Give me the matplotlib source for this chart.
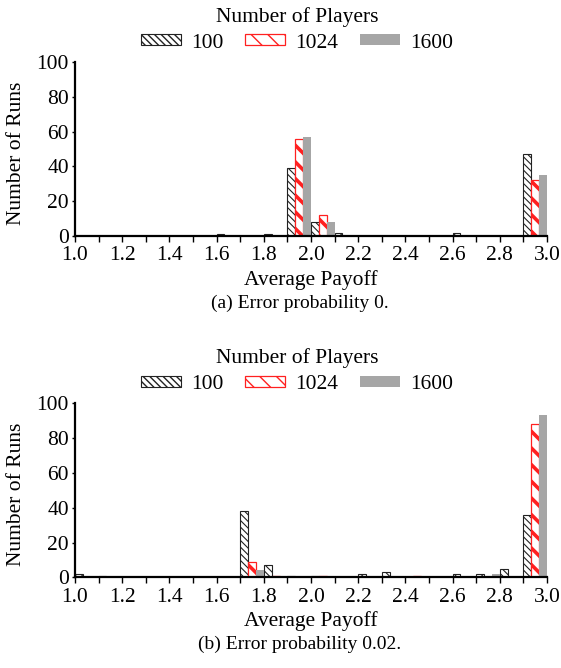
import numpy as np
import matplotlib
matplotlib.use("Agg")
import matplotlib.pyplot as plt
from matplotlib.patches import Patch

plt.rcParams['font.family'] = ['Liberation Serif', 'DejaVu Serif']

# payoff bins, 0.1 wide, left edges 1.0 .. 2.9
bin_left = [1.0, 1.1, 1.2, 1.3, 1.4, 1.5, 1.6, 1.7, 1.8, 1.9,
            2.0, 2.1, 2.2, 2.3, 2.4, 2.5, 2.6, 2.7, 2.8, 2.9]
players = ["100", "1024", "1600"]

# (a) error probability 0
runs_a_100 = [0, 0, 0, 0, 0, 0, 1, 0, 1, 39, 8, 2, 0, 0, 0, 0, 2, 0, 0, 47]
runs_a_1024 = [0, 0, 0, 0, 0, 0, 0, 0, 0, 56, 12, 0, 0, 0, 0, 0, 0, 0, 0, 32]
runs_a_1600 = [0, 0, 0, 0, 0, 0, 0, 0, 0, 57, 8, 0, 0, 0, 0, 0, 0, 0, 0, 35]

# (b) error probability 0.02
runs_b_100 = [2, 1, 0, 0, 0, 0, 0, 38, 7, 1, 1, 0, 2, 3, 0, 0, 2, 2, 5, 36]
runs_b_1024 = [0, 0, 0, 0, 0, 0, 0, 9, 1, 0, 1, 0, 0, 0, 1, 0, 0, 0, 0, 88]
runs_b_1600 = [0, 0, 0, 0, 0, 0, 0, 4, 0, 0, 0, 0, 0, 0, 0, 0, 0, 2, 1, 93]

x_ticks = [1.0, 1.1, 1.2, 1.3, 1.4, 1.5, 1.6, 1.7, 1.8, 1.9, 2.0,
           2.1, 2.2, 2.3, 2.4, 2.5, 2.6, 2.7, 2.8, 2.9, 3.0]
y_ticks = [0, 20, 40, 60, 80, 100]

GRAY = '#a6a6a6'
RED = '#ff2020'
W, H = 561, 668
FS = 15.5

styles = [
    dict(facecolor='white', edgecolor='#222222', hatch='\\\\\\\\\\', linewidth=0.8, hlw=0.8),
    dict(facecolor='white', edgecolor=RED, hatch='\\\\', linewidth=0.9, hlw=2.6),
    dict(facecolor=GRAY, edgecolor='none', hatch=None, linewidth=0, hlw=1.0),
]


def set_hlw(patch, lw):
    if hasattr(patch, 'set_hatch_linewidth'):
        patch.set_hatch_linewidth(lw)


def panel(fig, y_base, series, caption):
    # y_base: pixel row of the x axis (from top)
    ax = fig.add_axes([75 / W, (H - y_base) / H, 472 / W, 174 / H])
    bw = 0.1 / 3
    left = np.array(bin_left)
    for k, (vals, st) in enumerate(zip(series, styles)):
        with plt.rc_context({'hatch.linewidth': st['hlw']}):
            bars = ax.bar(left + k * bw, vals, width=bw, align='edge',
                          facecolor=st['facecolor'], edgecolor=st['edgecolor'],
                          hatch=st['hatch'], linewidth=st['linewidth'], zorder=2)
            for b in bars:
                set_hlw(b, st['hlw'])

    ax.set_xlim(1.0, 3.0)
    ax.set_ylim(0, 100)
    ax.set_xticks(x_ticks)
    ax.set_xticklabels(["%.1f" % t if i % 2 == 0 else "" for i, t in enumerate(x_ticks)])
    ax.set_yticks(y_ticks)
    ax.tick_params(axis='x', direction='out', length=4, width=1, pad=3.5, labelsize=FS)
    ax.tick_params(axis='y', direction='out', length=2.5, width=1, pad=2, labelsize=FS)
    for s in ['top', 'right']:
        ax.spines[s].set_visible(False)
    for s in ['left', 'bottom']:
        ax.spines[s].set_linewidth(1.6)
    ax.patch.set_alpha(0)

    off = y_base - 236
    fig.text(297 / W, 1 - (17 + off) / H, "Number of Players", ha='center', va='center', fontsize=FS)
    fig.text(311 / W, 1 - (280 + off) / H, "Average Payoff", ha='center', va='center', fontsize=FS)
    fig.text(300 / W, 1 - (303 + off) / H, caption, ha='center', va='center', fontsize=14)
    fig.text(17 / W, 1 - (153 + off) / H, "Number of Runs", ha='center', va='center',
             rotation=90, fontsize=FS)

    handles = []
    for lab, st in zip(players, styles):
        with plt.rc_context({'hatch.linewidth': st['hlw']}):
            p = Patch(facecolor=st['facecolor'], edgecolor=st['edgecolor'],
                      hatch=st['hatch'], linewidth=st['linewidth'], label=lab)
            set_hlw(p, st['hlw'])
        handles.append(p)
    fig.legend(handles=handles, loc='center', ncol=3, frameon=False, fontsize=FS,
               bbox_to_anchor=(297 / W, 1 - (43 + off) / H),
               handlelength=1.86, handleheight=0.4, handletextpad=0.47,
               columnspacing=1.0, borderpad=0, borderaxespad=0)
    return ax


fig = plt.figure(figsize=(W / 100, H / 100), dpi=100)
panel(fig, 236, [runs_a_100, runs_a_1024, runs_a_1600], "(a) Error probability 0.")
panel(fig, 577.3, [runs_b_100, runs_b_1024, runs_b_1600], "(b) Error probability 0.02.")

fig.savefig("out.png", dpi=100)
